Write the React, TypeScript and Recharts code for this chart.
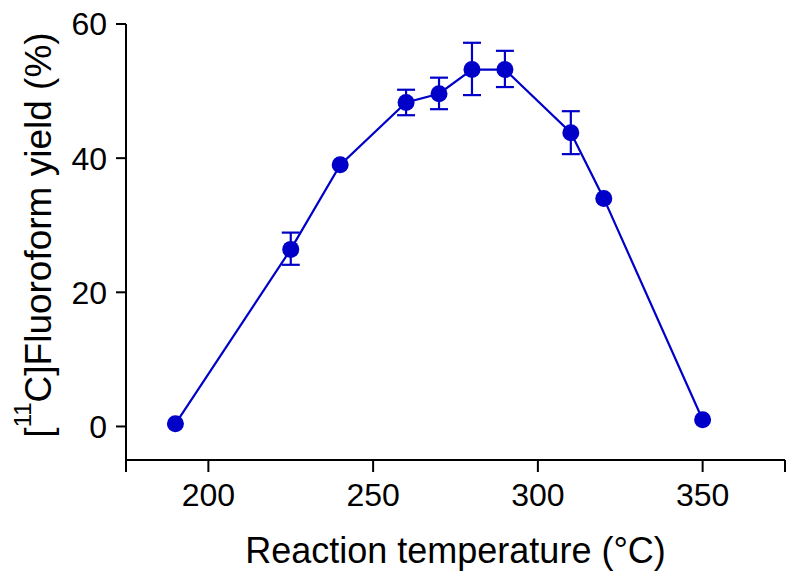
import { ErrorBar, Label, Line, LineChart, XAxis, YAxis } from "recharts";

const temps = [190, 225, 240, 260, 270, 280, 290, 310, 320, 350];
const yields = [0.4, 26.4, 39.0, 48.3, 49.6, 53.2, 53.2, 43.8, 34.0, 1.0];
// error bar ends (null = no visible bar)
const lowerBounds = [null, 24.1, null, 46.4, 47.3, 49.4, 50.6, 40.6, null, null];
const upperBounds = [null, 28.9, null, 50.2, 52.0, 57.2, 56.0, 47.0, null, null];

const xTicks = [175, 200, 250, 300, 350, 375];
const yTicks = [0, 20, 40, 60];

const BLUE = "#0000C8";
const FONT = "'Liberation Sans', Arial, Helvetica, sans-serif";

const data = temps.map((t, i) => ({
  temp: t,
  yield: yields[i],
  err:
    lowerBounds[i] == null || upperBounds[i] == null
      ? null
      : [yields[i] - (lowerBounds[i] as number), (upperBounds[i] as number) - yields[i]],
}));

function YTitle() {
  const x = 51;
  const y = 235;
  return (
    <text
      x={x}
      y={y}
      transform={`rotate(-90, ${x}, ${y})`}
      textAnchor="middle"
      fontSize={37}
      fontFamily={FONT}
      fill="#000"
    >
      [<tspan dy={-20} fontSize={24}>11</tspan>
      <tspan dy={20}>C]Fluoroform yield (%)</tspan>
    </text>
  );
}

export default function App() {
  return (
    <div style={{ position: "absolute", left: 0, top: 0, background: "#fff" }}>
      <LineChart width={796} height={580} data={data} margin={{ top: 24, right: 11, left: 0, bottom: 0 }}>
        <XAxis
          dataKey="temp"
          type="number"
          domain={[175, 375]}
          ticks={xTicks}
          interval={0}
          tickFormatter={(v: number) => (v === 175 || v === 375 ? "" : String(v))}
          height={120}
          stroke="#000"
          strokeWidth={2}
          tickSize={12}
          tickMargin={11}
          tick={{ fontSize: 32, fontFamily: FONT, fill: "#000" }}
        >
          <Label
            value="Reaction temperature (°C)"
            position="insideBottom"
            offset={17}
            style={{ fontSize: 36, fontFamily: FONT, fill: "#000" }}
          />
        </XAxis>
        <YAxis
          type="number"
          domain={[-5, 60]}
          ticks={yTicks}
          interval={0}
          width={126}
          stroke="#000"
          strokeWidth={2}
          tickSize={10}
          tickMargin={9}
          tick={{ fontSize: 32, fontFamily: FONT, fill: "#000" }}
        >
          <Label content={() => <YTitle />} />
        </YAxis>
        <Line
          type="linear"
          dataKey="yield"
          stroke={BLUE}
          strokeWidth={2.2}
          dot={{ r: 8.5, fill: BLUE, stroke: BLUE, strokeWidth: 0 }}
          activeDot={false}
          isAnimationActive={false}
        >
          <ErrorBar dataKey="err" width={9} stroke={BLUE} strokeWidth={2.2} direction="y" />
        </Line>
      </LineChart>
    </div>
  );
}
